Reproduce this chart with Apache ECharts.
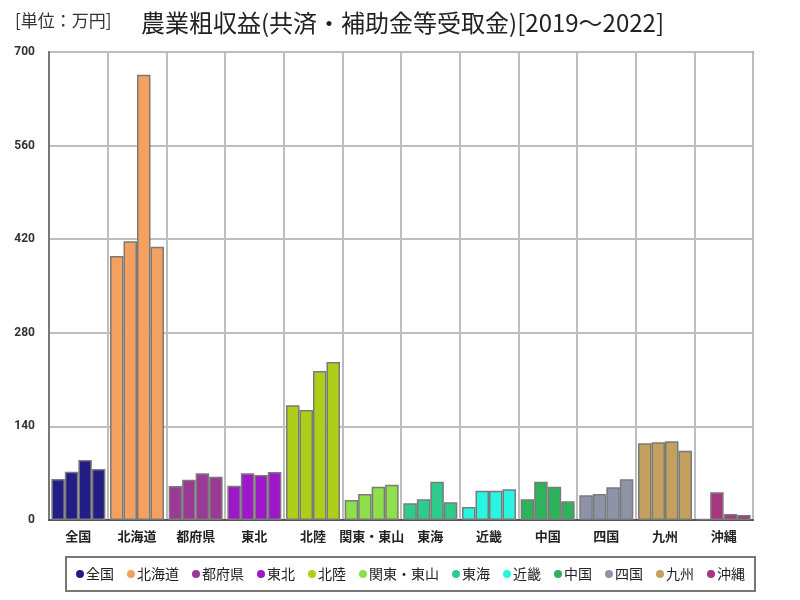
<!DOCTYPE html>
<html><head><meta charset="utf-8">
<script src="https://cdn.jsdelivr.net/npm/echarts@6/dist/echarts.min.js"></script>
<style>html,body{margin:0;padding:0;background:#fff}#c{width:800px;height:600px}</style>
</head><body><div id="c"></div>
<script>
const regions = ['全国','北海道','都府県','東北','北陸','関東・東山','東海','近畿','中国','四国','九州','沖縄'];
const years = ['2019','2020','2021','2022'];
const yTicks = { min: 0, max: 700, interval: 140 };
// values per region, years 2019..2022 (万円)
const vZenkoku   = [61.3, 72.2, 89.7, 76.3];
const vHokkaido  = [394.9, 416.8, 666.0, 408.8];
const vTofuken   = [50.9, 60.3, 69.8, 64.8];
const vTohoku    = [51.3, 69.8, 67.3, 71.8];
const vHokuriku  = [171.5, 164.5, 222.9, 236.3];
const vKanto     = [29.9, 38.9, 49.9, 52.8];
const vTokai     = [24.9, 30.9, 57.3, 26.4];
const vKinki     = [19.4, 43.8, 43.8, 45.9];
const vChugoku   = [30.9, 57.3, 49.9, 27.9];
const vShikoku   = [36.9, 38.9, 48.9, 60.8];
const vKyushu    = [114.7, 116.2, 117.7, 103.7];
const vOkinawa   = [1.5, 41.4, 9.0, 7.5];
const regionValues = [vZenkoku, vHokkaido, vTofuken, vTohoku, vHokuriku, vKanto, vTokai, vKinki, vChugoku, vShikoku, vKyushu, vOkinawa];
const colors = ['#231e86','#f4a060','#9a3a96','#9e17c9','#aecf1a','#8ee04a','#2dcc8c','#29f5e3','#2cb35b','#8f93a8','#c4a05e','#a5367f'];

// one bar series per year on the region axis, each bar coloured by its region
const yearSeries = years.map((y, j) => ({
  name: y, type: 'bar', xAxisIndex: 1,
  barGap: '0%', barCategoryGap: '8%',
  itemStyle: { borderColor: '#7a7a7a', borderWidth: 1.5 },
  data: regions.map((r, i) => ({ value: regionValues[i][j], itemStyle: { color: colors[i] } }))
}));
// legend entries for regions (no marks of their own)
const legendSeries = regions.map((r, i) => ({
  name: r, type: 'bar', xAxisIndex: 0, data: [],
  itemStyle: { color: colors[i] }
}));

const chart = echarts.init(document.getElementById('c'), null, { renderer: 'canvas' });
const FONT = '"Noto Sans CJK JP", sans-serif';
chart.setOption({
  animation: false,
  textStyle: { fontFamily: FONT },
  title: [
    { text: '[単位：万円]', left: 10, top: 7, textStyle: { fontFamily: FONT, fontSize: 17, fontWeight: 'normal', color: '#333' } },
    { text: '農業粗収益(共済・補助金等受取金)[2019～2022]', left: 136, top: 6, textStyle: { fontFamily: FONT, fontSize: 24, fontWeight: 'normal', color: '#222' } }
  ],
  grid: { left: 49, right: 47, top: 52, bottom: 80, show: true, borderColor: '#888', borderWidth: 2, backgroundColor: '#fff' },
  legend: {
    left: 66, top: 557, icon: 'circle', itemWidth: 8, itemHeight: 8, itemGap: 13,
    padding: [10, 10], borderColor: '#777', borderWidth: 2, backgroundColor: '#fff',
    textStyle: { fontFamily: FONT, fontSize: 14, color: '#222', padding: [0, 0, 0, -3] },
    data: regions
  },
  xAxis: [
    { type: 'category', data: regions, show: false, boundaryGap: true },
    { type: 'category', data: regions, position: 'bottom', boundaryGap: true,
      axisLine: { show: true, lineStyle: { color: '#555', width: 2 } },
      axisTick: { show: false },
      axisLabel: { fontFamily: FONT, fontSize: 13, fontWeight: 'bold', color: '#222', margin: 10, interval: 0 },
      splitLine: { show: true, lineStyle: { color: '#bdbdbd', width: 2 } } }
  ],
  yAxis: {
    type: 'value', min: yTicks.min, max: yTicks.max, interval: yTicks.interval,
    axisLine: { show: true, lineStyle: { color: '#777', width: 2 } },
    axisTick: { show: false },
    axisLabel: { fontFamily: 'Roboto, sans-serif', fontSize: 12, fontWeight: 'bold', color: '#333', margin: 14 },
    splitLine: { show: true, lineStyle: { color: '#bdbdbd', width: 2 } }
  },
  series: yearSeries.concat(legendSeries)
});
</script></body></html>
